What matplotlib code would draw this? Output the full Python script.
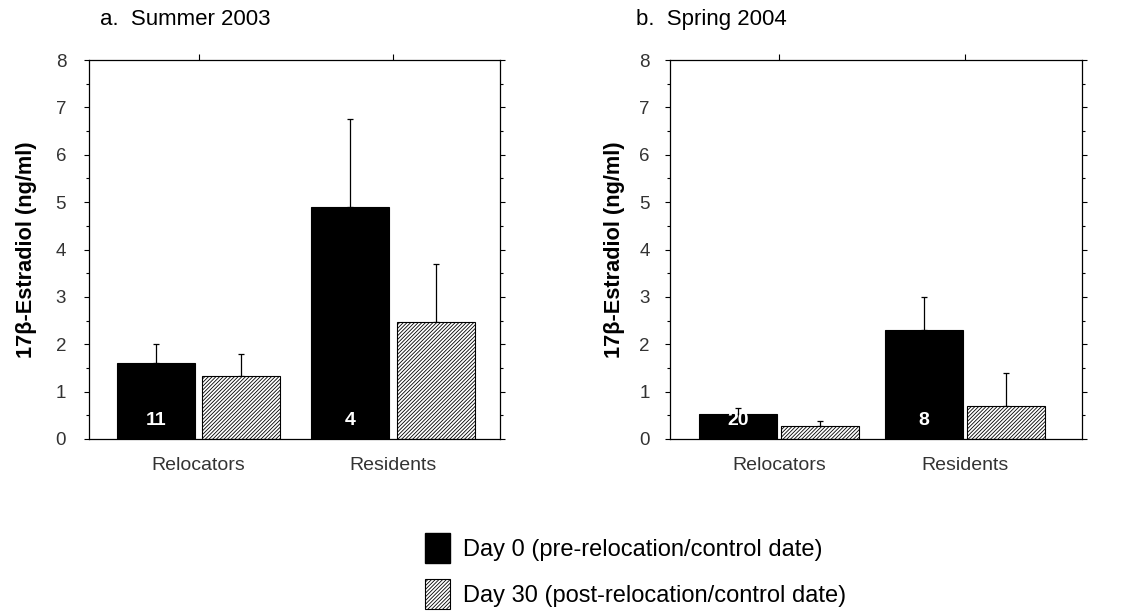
import matplotlib
matplotlib.use('Agg')
import matplotlib.pyplot as plt
from matplotlib.patches import Patch
from matplotlib.ticker import MultipleLocator

plt.rcParams['font.family'] = ['Liberation Sans', 'DejaVu Sans']
plt.rcParams['hatch.linewidth'] = 0.6

# ---------------------------- data ---------------------------- #
groups = ['Relocators', 'Residents']
series = ['Day 0 (pre-relocation/control date)', 'Day 30 (post-relocation/control date)']

summer_day0 = [1.6, 4.9]
summer_day0_err = [0.4, 1.85]
summer_day30 = [1.32, 2.48]
summer_day30_err = [0.48, 1.22]
summer_n = [11, 4]

spring_day0 = [0.52, 2.3]
spring_day0_err = [0.13, 0.7]
spring_day30 = [0.28, 0.7]
spring_day30_err = [0.09, 0.7]
spring_n = [20, 8]

panels = [
    ('a.  Summer 2003', summer_day0, summer_day0_err, summer_day30, summer_day30_err, summer_n),
    ('b.  Spring 2004', spring_day0, spring_day0_err, spring_day30, spring_day30_err, spring_n),
]

HATCH = '/////////'

fig = plt.figure(figsize=(11.23, 6.15), dpi=100)
axes = [fig.add_axes([0.0793, 0.2862, 0.366, 0.6162]),
        fig.add_axes([0.5966, 0.2862, 0.3669, 0.6162])]
xlims = [(-0.563, 1.55), (-0.586, 1.63)]
widths = [0.40, 0.42]
offsets = [0.22, 0.22]
label_x = [-0.127, -0.108]
title_x = [0.027, -0.083]
tick_pad = [13, 11]

for k, (ax, (title, d0, e0, d30, e30, n)) in enumerate(zip(axes, panels)):
    w, off = widths[k], offsets[k]
    x = range(len(groups))
    x0 = [i - off for i in x]
    x30 = [i + off for i in x]

    ax.bar(x0, d0, width=w, color='black', edgecolor='black', linewidth=0.8, zorder=2)
    ax.bar(x30, d30, width=w, color='white', edgecolor='black', hatch=HATCH,
           linewidth=0.8, zorder=2)

    # upper-only error bars
    ax.errorbar(x0, d0, yerr=[[0] * len(e0), e0], fmt='none', ecolor='black',
                elinewidth=0.9, capsize=2.5, capthick=0.9, zorder=1)
    ax.errorbar(x30, d30, yerr=[[0] * len(e30), e30], fmt='none', ecolor='black',
                elinewidth=0.9, capsize=2.5, capthick=0.9, zorder=1)

    # sample sizes inside the dark bars
    for xi, ni in zip(x0, n):
        ax.text(xi, 0.4, str(ni), color='white', fontsize=14, fontweight='bold',
                ha='center', va='center', zorder=3)

    ax.set_xlim(*xlims[k])
    ax.set_ylim(0, 8)
    ax.set_xticks(list(x))
    ax.set_xticklabels(groups, fontsize=14, color='#333333')
    ax.tick_params(axis='x', bottom=False, top=True, direction='out', length=4,
                   pad=9, width=0.8)
    ax.yaxis.set_major_locator(MultipleLocator(1))
    ax.yaxis.set_minor_locator(MultipleLocator(0.5))
    ax.tick_params(axis='y', which='both', left=True, right=True, direction='out',
                   width=0.8, labelsize=13.5, labelcolor='#333333', pad=tick_pad[k])
    ax.tick_params(axis='y', which='major', length=3.5)
    ax.tick_params(axis='y', which='minor', length=2)
    for s in ax.spines.values():
        s.set_linewidth(0.9)

    ax.set_ylabel('17β-Estradiol (ng/ml)', fontsize=15.7, fontweight='bold')
    ax.yaxis.set_label_coords(label_x[k], 0.5)
    ax.text(title_x[k], 1.106, title, transform=ax.transAxes, fontsize=16,
            ha='left', va='center')

# legend below the panels
handles = [Patch(facecolor='black', edgecolor='black'),
           Patch(facecolor='white', edgecolor='black', hatch=HATCH, linewidth=0.8)]
fig.legend(handles, series, loc='upper left', bbox_to_anchor=(0.370, 0.1486),
           frameon=False, fontsize=17, handlelength=1.06, handleheight=1.6,
           handletextpad=0.55, labelspacing=0.66, borderaxespad=0)

fig.savefig('out.png', dpi=100)
